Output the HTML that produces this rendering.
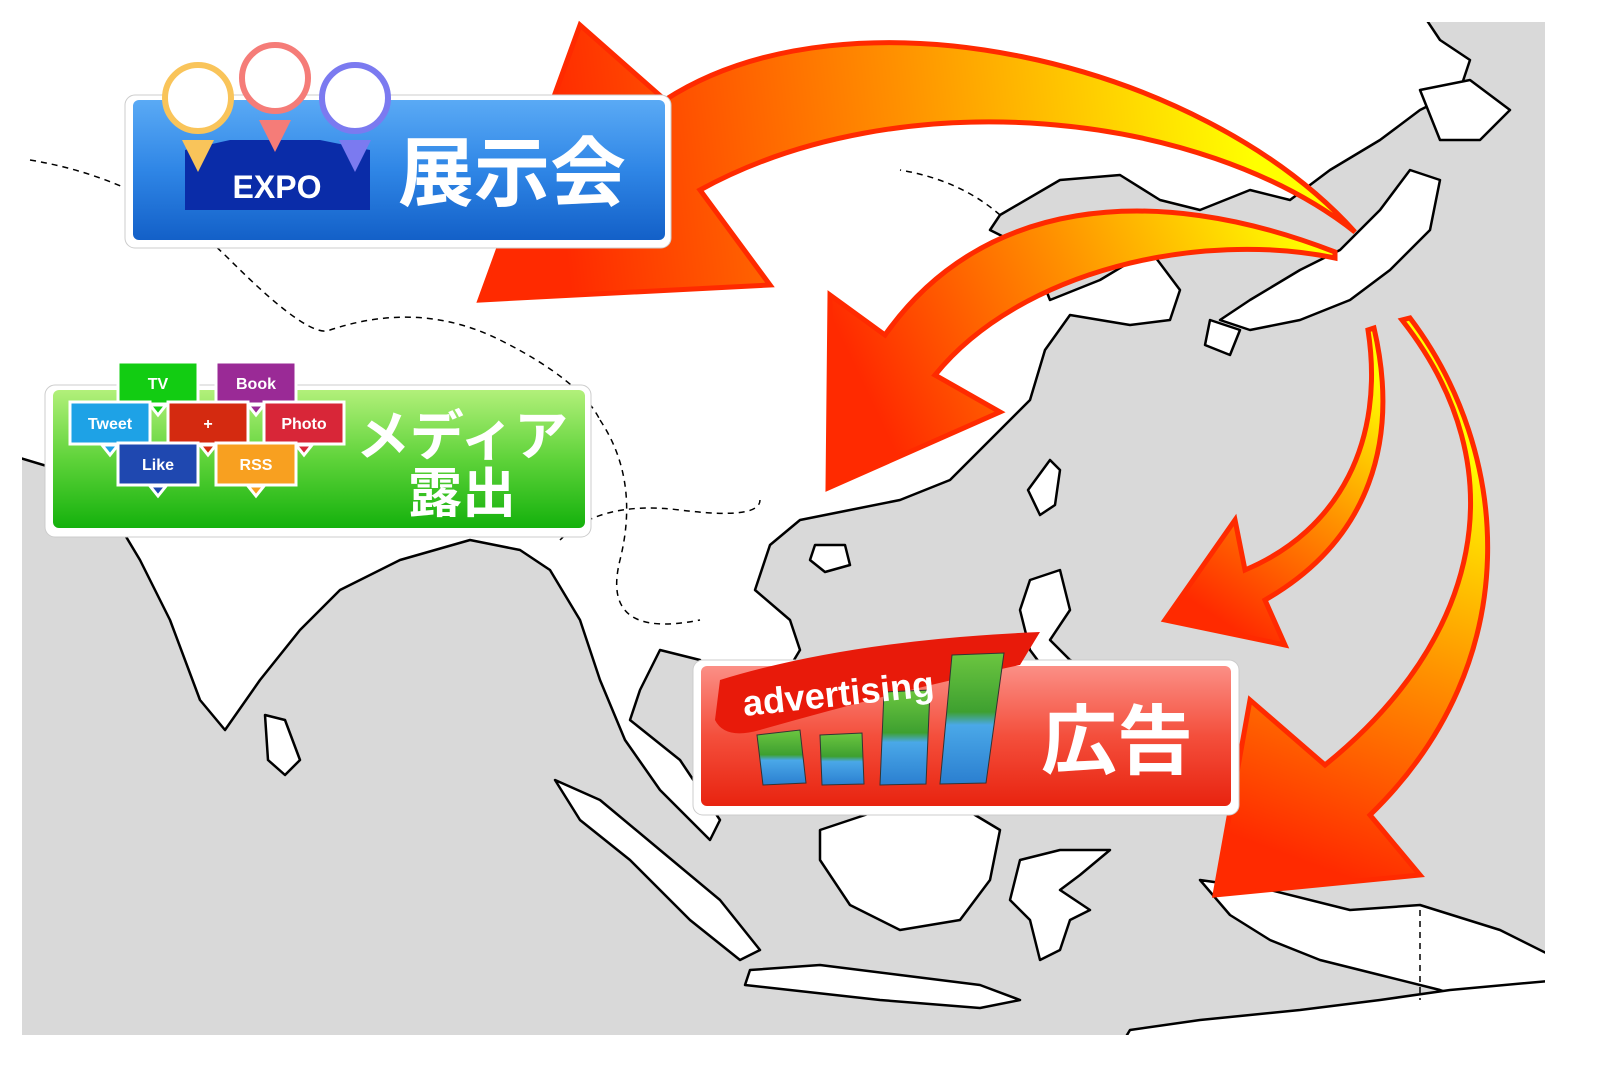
<!DOCTYPE html>
<html><head><meta charset="utf-8"><style>
body{margin:0;width:1600px;height:1080px;background:#fff;overflow:hidden}
svg{position:absolute;left:0;top:0}
.t{font-family:"Liberation Sans","Noto Sans CJK JP",sans-serif;font-weight:bold}
</style></head><body>
<svg width="1600" height="1080" viewBox="0 0 1600 1080">
<defs>
<clipPath id="mc"><rect x="22" y="22" width="1523" height="1013"/></clipPath>
<linearGradient id="blue" x1="0" y1="0" x2="0" y2="1"><stop offset="0" stop-color="#5aaaf5"/><stop offset="0.5" stop-color="#2f86e6"/><stop offset="1" stop-color="#1360c8"/></linearGradient>
<linearGradient id="green" x1="0" y1="0" x2="0" y2="1"><stop offset="0" stop-color="#b2f07a"/><stop offset="0.5" stop-color="#5fd33a"/><stop offset="1" stop-color="#14b10c"/></linearGradient>
<linearGradient id="red" x1="0" y1="0" x2="0" y2="1"><stop offset="0" stop-color="#fb8f86"/><stop offset="0.5" stop-color="#f44f3c"/><stop offset="1" stop-color="#e8230f"/></linearGradient>
<linearGradient id="g1" gradientUnits="userSpaceOnUse" x1="560" y1="200" x2="1250" y2="120"><stop offset="0" stop-color="#ff2a00"/><stop offset="0.5" stop-color="#ff9000"/><stop offset="1" stop-color="#ffff00"/></linearGradient>
<linearGradient id="g2" gradientUnits="userSpaceOnUse" x1="880" y1="420" x2="1300" y2="220"><stop offset="0" stop-color="#ff2a00"/><stop offset="0.5" stop-color="#ff9000"/><stop offset="1" stop-color="#ffff00"/></linearGradient>
<linearGradient id="g3" gradientUnits="userSpaceOnUse" x1="1220" y1="620" x2="1380" y2="380"><stop offset="0" stop-color="#ff2a00"/><stop offset="0.5" stop-color="#ff9000"/><stop offset="1" stop-color="#ffff00"/></linearGradient>
<linearGradient id="g4" gradientUnits="userSpaceOnUse" x1="1300" y1="860" x2="1450" y2="450"><stop offset="0" stop-color="#ff2a00"/><stop offset="0.5" stop-color="#ff9000"/><stop offset="1" stop-color="#ffff00"/></linearGradient>
<linearGradient id="bar" x1="0" y1="0" x2="0" y2="1"><stop offset="0" stop-color="#6cc640"/><stop offset="0.45" stop-color="#3ea030"/><stop offset="0.55" stop-color="#4aa8e8"/><stop offset="1" stop-color="#2b7fd0"/></linearGradient>
</defs>
<g clip-path="url(#mc)">
<rect x="22" y="22" width="1523" height="1013" fill="#d9d9d9"/>
<g fill="#fff" stroke="#000" stroke-width="2.5" stroke-linejoin="round">
<path d="M10,10 L1420,10 L1440,40 L1470,60 L1460,90 L1420,110 L1380,140 L1330,170 L1290,200 L1250,190 L1200,210 L1160,200 L1120,175 L1060,180 L1000,215 L990,230 L1030,250 L1050,300 L1100,280 L1150,250 L1180,290 L1170,320 L1130,325 L1070,315 L1045,350 L1030,400 L990,440 L950,480 L900,500 L850,510 L800,520 L770,545 L755,590 L790,620 L800,650 L770,700 L730,690 L700,660 L660,650 L640,690 L630,720 L680,760 L720,820 L710,840 L660,790 L625,740 L600,680 L580,620 L550,570 L520,550 L470,540 L400,560 L340,590 L300,630 L260,680 L225,730 L200,700 L170,620 L140,560 L110,510 L60,470 L10,455 Z"/>
<path d="M1250,300 L1300,270 L1340,250 L1380,210 L1410,170 L1440,180 L1430,230 L1390,270 L1350,300 L1300,320 L1250,330 L1220,320 Z"/>
<path d="M1420,90 L1470,80 L1510,110 L1480,140 L1440,140 Z"/>
<path d="M1210,320 L1240,330 L1230,355 L1205,345 Z"/>
<path d="M1050,460 L1060,470 L1055,505 L1040,515 L1028,490 Z"/>
<path d="M815,545 L845,545 L850,565 L825,572 L810,560 Z"/>
<path d="M1030,580 L1060,570 L1070,610 L1050,640 L1070,660 L1100,670 L1095,700 L1060,690 L1030,650 L1020,610 Z"/>
<path d="M820,830 L880,810 L950,800 L1000,830 L990,880 L960,920 L900,930 L850,905 L820,860 Z"/>
<path d="M555,780 L600,800 L660,850 L720,900 L760,950 L740,960 L690,920 L630,860 L580,820 Z"/>
<path d="M750,970 L820,965 L900,975 L980,985 L1020,1000 L980,1008 L880,1000 L790,990 L745,985 Z"/>
<path d="M1020,860 L1060,850 L1110,850 L1080,875 L1060,890 L1090,910 L1070,920 L1060,950 L1040,960 L1030,920 L1010,900 Z"/>
<path d="M1200,880 L1270,890 L1350,910 L1420,905 L1500,930 L1560,960 L1560,1040 L1500,1010 L1440,990 L1380,975 L1320,960 L1270,940 L1230,915 Z"/>
<path d="M265,715 L285,720 L300,760 L285,775 L268,760 Z"/>
<path d="M1130,1030 L1200,1020 L1300,1010 L1380,1000 L1450,990 L1560,980 L1560,1080 L1100,1080 Z"/>
</g>
<g fill="none" stroke="#000" stroke-width="1.5" stroke-dasharray="6,5">
<path d="M30,160 Q150,180 230,260 T330,330 Q420,300 500,340 T600,420"/>
<path d="M600,420 Q640,480 620,560 T700,620"/>
<path d="M560,540 Q600,500 680,510 T760,500"/>
<path d="M1000,215 Q960,180 900,170"/>
<path d="M1420,910 L1420,1000"/>
</g>
</g>
<g stroke="#ff2a00" stroke-width="5" stroke-linejoin="miter">
<path fill="url(#g1)" d="M1355,232 C1200,60 850,-20 665,100 L580,25 L480,300 L770,285 L700,190 C900,80 1200,110 1355,232 Z"/>
<path fill="url(#g2)" d="M1335,252 C1150,180 980,200 885,335 L830,295 L828,488 L1000,412 L935,375 C1020,270 1200,230 1335,258 Z"/>
<path fill="url(#g3)" d="M1368,330 C1385,440 1340,530 1245,570 L1235,520 L1165,620 L1285,645 L1265,600 C1370,540 1400,440 1374,328 Z"/>
<path fill="url(#g4)" d="M1402,320 C1520,470 1480,640 1325,765 L1250,700 L1215,895 L1420,875 L1370,815 C1530,660 1510,450 1410,318 Z"/>
</g>
<rect x="125" y="95" width="546" height="153" rx="10" fill="#fff" stroke="#ccc"/>
<rect x="133" y="100" width="532" height="140" rx="6" fill="url(#blue)"/>
<path d="M185,150 L230,140 L320,140 L370,150 L370,210 L185,210 Z" fill="#0a2ca8"/>
<text x="277" y="198" class="t" font-size="32" fill="#fff" text-anchor="middle">EXPO</text>
<g stroke-width="6"><polygon points="182,140 214,140 198,172" fill="#f9c45a"/><circle cx="198" cy="98" r="33" fill="#fff" stroke="#f9c45a"/>
<polygon points="259,120 291,120 275,152" fill="#f57c78"/><circle cx="275" cy="78" r="33" fill="#fff" stroke="#f57c78"/>
<polygon points="339,140 371,140 355,172" fill="#7b7af0"/><circle cx="355" cy="98" r="33" fill="#fff" stroke="#7b7af0"/></g>
<text x="512" y="200" class="t" font-size="76" fill="#fff" text-anchor="middle">展示会</text>
<rect x="45" y="385" width="546" height="152" rx="10" fill="#fff" stroke="#ccc"/>
<rect x="53" y="390" width="532" height="138" rx="6" fill="url(#green)"/>
<text x="462" y="455" class="t" font-size="54" fill="#fff" text-anchor="middle">メディア</text>
<text x="462" y="512" class="t" font-size="54" fill="#fff" text-anchor="middle">露出</text>
<g class="t" font-size="16" fill="#fff" text-anchor="middle" stroke="#fff" stroke-width="3">
<rect x="118" y="362" width="80" height="42" fill="#12cc12"/><polygon points="150,405 166,405 158,415" fill="#12cc12"/>
<rect x="216" y="362" width="80" height="42" fill="#9a2a96"/><polygon points="248,405 264,405 256,415" fill="#9a2a96"/>
<rect x="70" y="402" width="80" height="42" fill="#1ea2e6"/><polygon points="102,445 118,445 110,455" fill="#1ea2e6"/>
<rect x="168" y="402" width="80" height="42" fill="#d42a10"/><polygon points="200,445 216,445 208,455" fill="#d42a10"/>
<rect x="264" y="402" width="80" height="42" fill="#d82638"/><polygon points="296,445 312,445 304,455" fill="#d82638"/>
<rect x="118" y="443" width="80" height="42" fill="#1f48b0"/><polygon points="150,486 166,486 158,496" fill="#1f48b0"/>
<rect x="216" y="443" width="80" height="42" fill="#f8a020"/><polygon points="248,486 264,486 256,496" fill="#f8a020"/>
</g>
<g class="t" font-size="16" fill="#fff" text-anchor="middle">
<text x="158" y="389">TV</text><text x="256" y="389">Book</text><text x="110" y="429">Tweet</text><text x="208" y="429">+</text><text x="304" y="429">Photo</text><text x="158" y="470">Like</text><text x="256" y="470">RSS</text></g>
<rect x="693" y="660" width="546" height="155" rx="10" fill="#fff" stroke="#ccc"/>
<rect x="701" y="666" width="530" height="140" rx="6" fill="url(#red)"/>
<path d="M720,680 Q850,640 1040,632 L1020,665 Q900,690 760,730 Q725,740 715,720 Z" fill="#e81a0a"/>
<g stroke="#333" stroke-width="1">
<path d="M757,735 L800,730 L806,783 L763,785 Z" fill="url(#bar)"/>
<path d="M820,735 L862,733 L864,784 L822,785 Z" fill="url(#bar)"/>
<path d="M884,692 L930,690 L926,784 L880,785 Z" fill="url(#bar)"/>
<path d="M952,655 L1004,653 L986,783 L940,784 Z" fill="url(#bar)"/>
</g>
<text x="838" y="706" class="t" font-size="36" fill="#fff" text-anchor="middle" transform="rotate(-6 838 690)">advertising</text>
<text x="1117" y="768" class="t" font-size="76" fill="#fff" text-anchor="middle">広告</text>
</svg>
</body></html>
